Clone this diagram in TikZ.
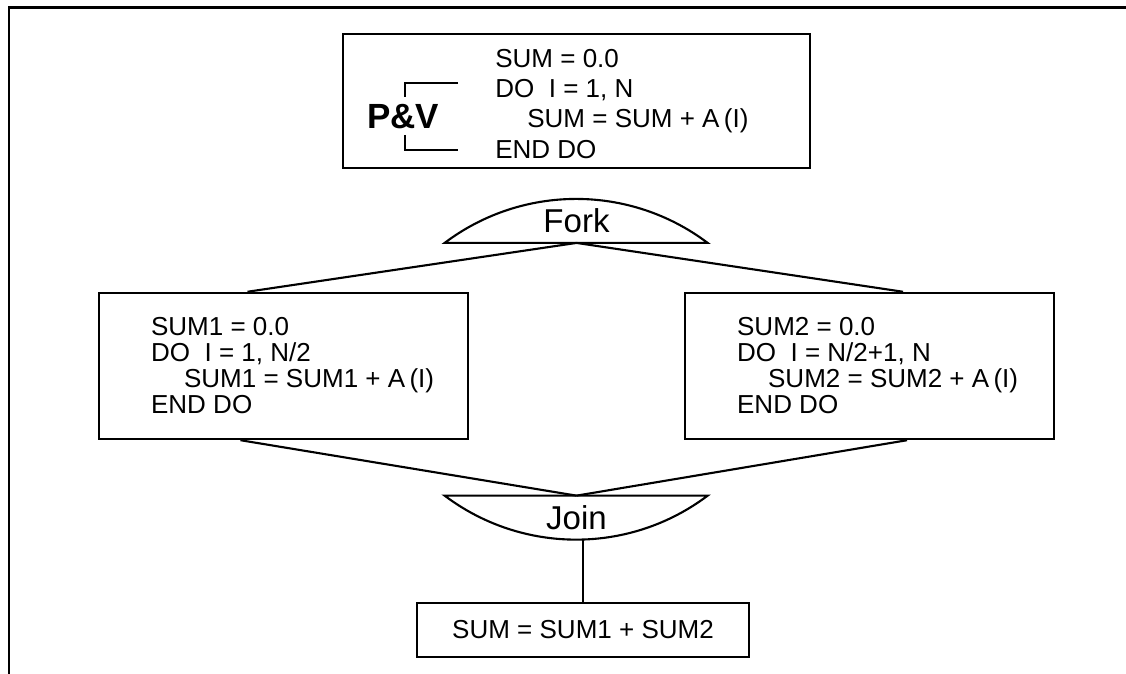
\documentclass[tikz,border=0pt]{standalone}
\usepackage{fontspec}
\setmainfont{Liberation Sans}
\usetikzlibrary{positioning}

\begin{document}
\begin{tikzpicture}[
  x=0.2mm, y=0.2mm,
  node distance=5.8mm,
  box/.style={draw, rectangle, line width=1.4pt, inner sep=0pt},
  code/.style={align=left, inner sep=0pt, font=\fontsize{14.8}{14.8}\selectfont},
  sub/.style={box, minimum width=73.8mm, minimum height=29.2mm},
  gate/.style={minimum width=52.6mm, minimum height=8.8mm, inner sep=0pt,
    font=\fontsize{18.8}{18.8}\selectfont},
  link/.style={line width=1.2pt}
]
\useasboundingbox (0,0) rectangle (1126,674);

\draw[line width=1.7pt, line join=miter] (9,0) -- (9,666) -- (1126,666);

\node[box, minimum width=93.4mm, minimum height=26.8mm] (serial) at (576.5,573) {};

\node[code, anchor=west, font=\fontsize{14.8}{17.1}\selectfont] (loop) at (495,570)
  {SUM = 0.0\\DO\ \ I = 1, N\\\hspace*{6.4mm}SUM = SUM + A\,(I)\\END DO};

\node[inner sep=0pt, font=\fontsize{19.9}{19.9}\selectfont\bfseries] (pv) at (403,557) {P\&V};
\draw[line width=1.1pt] (458,591) -| (405,577);
\draw[line width=1.1pt] (405,539) |- (458,524);

\node[gate] (fork) [below=of serial] {Fork};
\draw[link] (fork.south west) arc[start angle=127, end angle=53, radius=43.7mm] -- cycle;

\node[sub] (half1) at (283.5,308) {};
\node[code, anchor=west] (loop1) at ([xshift=10.6mm]half1.west)
  {SUM1 = 0.0\\DO\ \ I = 1, N/2\\\hspace*{6.6mm}SUM1 = SUM1 + A\,(I)\\END DO};

\node[sub] (half2) at (869.5,308) {};
\node[code, anchor=west] (loop2) at ([xshift=10.6mm]half2.west)
  {SUM2 = 0.0\\DO\ \ I = N/2+1, N\\\hspace*{6.2mm}SUM2 = SUM2 + A\,(I)\\END DO};

\node[gate] (join) at (576.5,156) {Join};
\draw[link] (join.north west) arc[start angle=233, end angle=307, radius=43.7mm] -- cycle;

\node[box, code, minimum width=66.4mm, minimum height=10.8mm] (total) at (583,44) {SUM = SUM1 + SUM2};

\draw[link] (fork.south) -- ([xshift=-7.2mm]half1.north);
\draw[link] (fork.south) -- ([xshift=6.7mm]half2.north);
\draw[link] ([xshift=-8.6mm]half1.south) -- (join.north);
\draw[link] ([xshift=7.5mm]half2.south) -- (join.north);
\draw[line width=1pt] (join.south -| total.north) -- (total.north);

\end{tikzpicture}
\end{document}
